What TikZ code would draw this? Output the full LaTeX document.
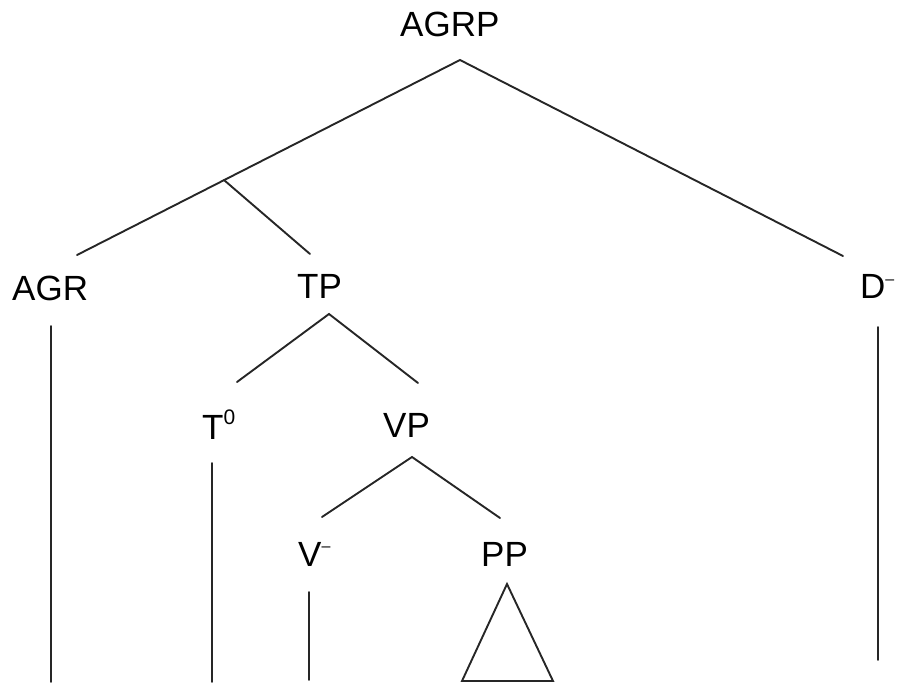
\documentclass[tikz,border=0pt]{standalone}
\usepackage{fontspec}
\setmainfont{Liberation Sans}
\usetikzlibrary{calc}
% small raised marks after a category label
\newcommand\supzero{\raisebox{15pt}{\fontsize{21}{21}\selectfont 0}}
\newcommand\supminus{\raisebox{14.5pt}{\fontsize{16}{16}\selectfont –}}
\begin{document}
\begin{tikzpicture}[x=1pt,y=-1pt,
  cat/.style={anchor=base west,inner sep=0pt,font=\fontsize{35}{35}\selectfont},
  branch/.style={line width=1.9pt,draw=black!85,line cap=round}]
\useasboundingbox (0,0) rectangle (897,684);
% category labels
\node[cat] (agrp) at (400,37) {AGRP};
\node[cat] (agr)  at (12,301) {AGR};
\node[cat] (tp)   at (297,299) {TP};
\node[cat] (d)    at (860,299) {D\supminus};
\node[cat] (t)    at (202,439) {T\supzero};
\node[cat] (vp)   at (383,438) {VP};
\node[cat] (v)    at (298,566) {V\supminus};
\node[cat] (pp)   at (481,566) {PP};
% branch end points
\coordinate (agrpTop) at (460,60);
\coordinate (agrpL) at (77,255);
\coordinate (agrpR) at (843,256);
\coordinate (split) at ($(agrpTop)!0.616!(agrpL)$);
\coordinate (toTP) at (310,254);
\coordinate (tpTop) at (329,314);
\coordinate (tpL) at (237,382);
\coordinate (tpR) at (418,383);
\coordinate (vpTop) at (412,457);
\coordinate (vpL) at (322,517);
\coordinate (vpR) at (500,518);
% vertical stems
\coordinate (agrA) at (51,326);  \coordinate (agrB) at (51,682);
\coordinate (tA) at (212,463);   \coordinate (tB) at (212,682);
\coordinate (vA) at (309,592);   \coordinate (vB) at (309,680);
\coordinate (dA) at (878,327);   \coordinate (dB) at (878,660);
% triangle under PP
\coordinate (triTop) at (507,584);
\coordinate (triL) at (462,681);
\coordinate (triR) at (553,681);
% tree branches
\draw[branch] (agrpL) -- (agrpTop) -- (agrpR);
\draw[branch] (split) -- (toTP);
\draw[branch] (tpL) -- (tpTop) -- (tpR);
\draw[branch] (vpL) -- (vpTop) -- (vpR);
\draw[branch] (agrA) -- (agrB);
\draw[branch] (tA) -- (tB);
\draw[branch] (vA) -- (vB);
\draw[branch] (dA) -- (dB);
\draw[branch,line join=miter] (triTop) -- (triL) -- (triR) -- cycle;
\end{tikzpicture}
\end{document}
